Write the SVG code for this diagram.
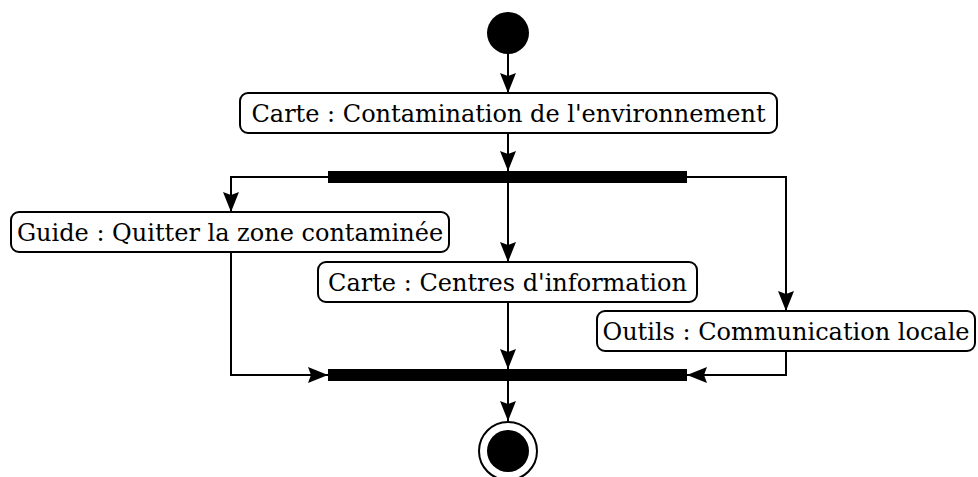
<svg xmlns="http://www.w3.org/2000/svg" width="978" height="477" viewBox="0 0 978 477">
<defs>
<style>
.act rect{fill:#fff;stroke:#000;stroke-width:2}
.act text{font-family:"DejaVu Serif",serif;font-size:24px;fill:#000;text-anchor:middle}
.bar{fill:#000}
#connectors path{fill:none;stroke:#000;stroke-width:2;marker-end:url(#arr)}
</style>
<marker id="arr" viewBox="0 0 20 16" refX="20" refY="8" markerWidth="20" markerHeight="16" markerUnits="userSpaceOnUse" orient="auto">
<path d="M0,0 L20,8 L0,16 L3,8 Z" fill="#000"/>
</marker>
</defs>
<rect width="978" height="477" fill="#fff"/>
<g id="connectors">
<path d="M508,54 L508,93"/>
<path d="M508,133 L508,171"/>
<path d="M328,177 L231,177 L231,212"/>
<path d="M508,183 L508,262"/>
<path d="M687,177 L786,177 L786,311"/>
<path d="M231,252 L231,375 L328,375"/>
<path d="M508,302 L508,369"/>
<path d="M786,351 L786,375 L687,375"/>
<path d="M508,381 L508,421"/>
</g>
<g id="start"><circle cx="508" cy="33" r="21" fill="#000"/></g>
<g id="act1" class="act"><rect x="240" y="93" width="537" height="40" rx="8"/><text x="508.5" y="122">Carte : Contamination de l'environnement</text></g>
<g id="fork"><rect class="bar" x="328" y="171" width="359" height="12"/></g>
<g id="act2" class="act"><rect x="11" y="212" width="438" height="40" rx="8"/><text x="230" y="241">Guide : Quitter la zone contaminée</text></g>
<g id="act3" class="act"><rect x="318" y="262" width="379" height="40" rx="8"/><text x="507.5" y="291">Carte : Centres d'information</text></g>
<g id="act4" class="act"><rect x="597" y="311" width="378" height="40" rx="8"/><text x="786" y="340">Outils : Communication locale</text></g>
<g id="join"><rect class="bar" x="328" y="369" width="359" height="12"/></g>
<g id="end"><circle cx="508" cy="451" r="29" fill="#fff" stroke="#000" stroke-width="2"/><circle cx="508" cy="451" r="21" fill="#000"/></g>
</svg>
